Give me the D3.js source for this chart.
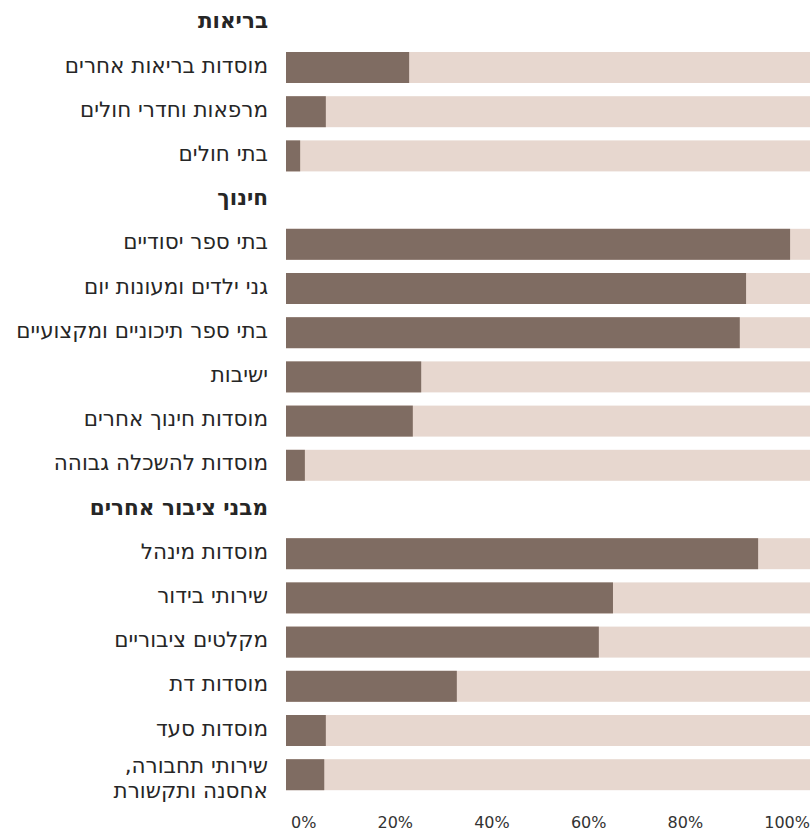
<!DOCTYPE html>
<html>
<head>
<meta charset="utf-8">
<script src="https://cdn.jsdelivr.net/npm/d3@7"></script>
<style>
  body { margin: 0; background: #fff; }
  text { font-family: "DejaVu Sans", sans-serif; fill: #262626; }
  .label { font-size: 21.5px; }
  .heading { font-size: 21.5px; font-weight: bold; }
  .axis text { font-size: 16px; fill: #333; }
</style>
</head>
<body>
<div id="chart"></div>
<script>
//data (share in percent)
var groupNames = ["בריאות", "חינוך", "מבני ציבור אחרים"];

var healthLabels = ["מוסדות בריאות אחרים", "מרפאות וחדרי חולים", "בתי חולים"];
var healthValues = [23.5, 7.6, 2.7];

var educationLabels = ["בתי ספר יסודיים", "גני ילדים ומעונות יום", "בתי ספר תיכוניים ומקצועיים",
  "ישיבות", "מוסדות חינוך אחרים", "מוסדות להשכלה גבוהה"];
var educationValues = [96.2, 87.8, 86.6, 25.8, 24.2, 3.6];

var otherLabels = ["מוסדות מינהל", "שירותי בידור", "מקלטים ציבוריים", "מוסדות דת",
  "מוסדות סעד", "שירותי תחבורה,\nאחסנה ותקשורת"];
var otherValues = [90.1, 62.4, 59.7, 32.6, 7.6, 7.3];

var tickValues = [0, 20, 40, 60, 80, 100];

//dimensions
var width = 810;
var height = 833;
var step = 44.2;
var lineHeight = 25;
var RLM = "\u200F";

//flatten groups into rows: a heading row followed by the bar rows
var groupLabels = [healthLabels, educationLabels, otherLabels];
var groupValues = [healthValues, educationValues, otherValues];
var rows = [];
groupNames.forEach(function(name, g) {
  rows.push({ type: "heading", key: "h" + g, text: name });
  groupLabels[g].forEach(function(label, i) {
    rows.push({ type: "bar", key: "b" + g + "_" + i, text: label, value: groupValues[g][i] });
  });
});

var svg = d3.select("#chart")
  .append("svg")
  .attr("width", width)
  .attr("height", height);

//scales
var x = d3.scaleLinear()
  .domain([0, 100])
  .range([286, 810]);

var y = d3.scaleBand()
  .domain(rows.map(function(d) { return d.key; }))
  .range([1.2, 1.2 + rows.length * step])
  .paddingInner(13.2 / step)
  .paddingOuter(6.6 / step);

var bars = rows.filter(function(d) { return d.type === "bar"; });

//background (100%) bars
svg.selectAll("rect.bg")
  .data(bars)
  .enter()
  .append("rect")
  .attr("class", "bg")
  .attr("x", x(0))
  .attr("y", function(d) { return y(d.key); })
  .attr("width", x(100) - x(0))
  .attr("height", y.bandwidth())
  .attr("fill", "#e7d7cf");

//value bars
svg.selectAll("rect.val")
  .data(bars)
  .enter()
  .append("rect")
  .attr("class", "val")
  .attr("x", x(0))
  .attr("y", function(d) { return y(d.key); })
  .attr("width", function(d) { return x(d.value) - x(0); })
  .attr("height", y.bandwidth())
  .attr("fill", "#7f6c62");

//row labels, right aligned next to the bars
var labels = svg.selectAll("text.row")
  .data(rows)
  .enter()
  .append("text")
  .attr("class", function(d) { return "row " + (d.type === "heading" ? "heading" : "label"); })
  .attr("text-anchor", "end")
  .attr("x", 268)
  .attr("y", function(d) {
    var n = d.text.split("\n").length;
    return y(d.key) + y.bandwidth() / 2 + 5 - (n - 1) * 6.5;
  });

labels.selectAll("tspan")
  .data(function(d) { return d.text.split("\n"); })
  .enter()
  .append("tspan")
  .attr("x", 268)
  .attr("dy", function(d, i) { return i === 0 ? 0 : lineHeight; })
  .text(function(d) { return d + RLM; });

//x axis
var axis = svg.append("g")
  .attr("class", "axis")
  .attr("transform", "translate(0,828)")
  .call(d3.axisBottom(x)
    .tickValues(tickValues)
    .tickFormat(function(d) { return d + "%"; })
    .tickSize(0)
    .tickPadding(0));

axis.select(".domain").remove();
axis.selectAll("text")
  .attr("y", 0)
  .attr("dy", 0)
  .attr("font-family", null)
  .attr("font-size", null)
  .attr("text-anchor", "start");

//spread the tick labels evenly between the left and right edges
var tickText = axis.selectAll(".tick text").nodes();
var widths = tickText.map(function(n) { return n.getComputedTextLength(); });
var left = 291, right = 810;
var gap = (right - left - d3.sum(widths)) / (widths.length - 1);
var pos = left;
axis.selectAll(".tick").each(function(d, i) {
  var t = d3.select(this);
  t.attr("transform", "translate(0,0)");
  t.select("text").attr("x", pos);
  pos += widths[i] + gap;
});
</script>
</body>
</html>
